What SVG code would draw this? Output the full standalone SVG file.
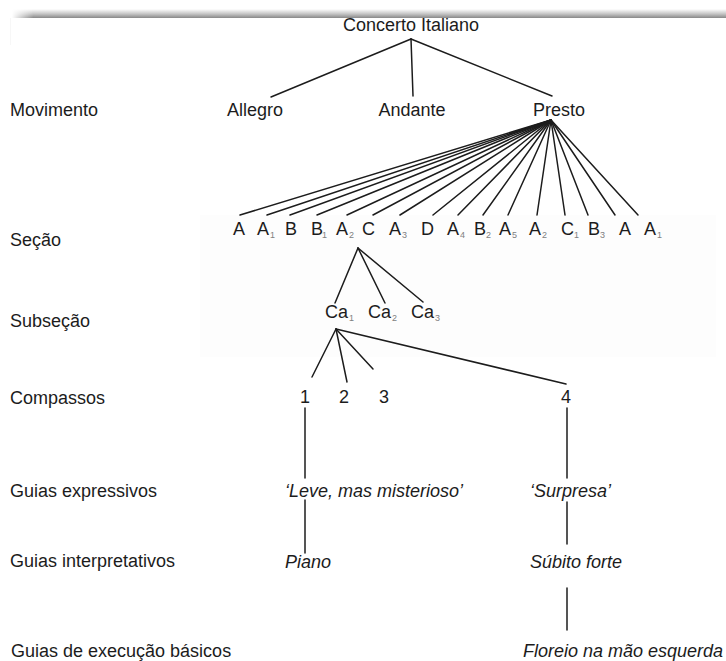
<svg xmlns="http://www.w3.org/2000/svg" width="726" height="661" viewBox="0 0 726 661">
<defs>
<linearGradient id="shadowV" x1="0" y1="0" x2="0" y2="1">
<stop offset="0" stop-color="#ffffff"/>
<stop offset="0.55" stop-color="#c4c4c4"/>
<stop offset="1" stop-color="#888888"/>
</linearGradient>
<linearGradient id="shadowH" x1="0" y1="0" x2="1" y2="0">
<stop offset="0" stop-color="#ffffff" stop-opacity="1"/>
<stop offset="0.03" stop-color="#ffffff" stop-opacity="0"/>
<stop offset="1" stop-color="#ffffff" stop-opacity="0"/>
</linearGradient>
<style>
.t{font-family:"Liberation Sans",Arial,sans-serif;font-size:18px;fill:#1c1c1c}
.i{font-style:italic}
.s{font-family:"Liberation Sans",Arial,sans-serif;font-size:9px;fill:#808080}
.m{text-anchor:middle}
.c line{stroke:#1c1c1c;stroke-width:1.5;stroke-linecap:round}
</style>
</defs>
<rect width="726" height="661" fill="#ffffff"/>
<g id="frame">
<rect x="12" y="9" width="714" height="9" fill="url(#shadowV)"/>
<rect x="12" y="9" width="714" height="9" fill="url(#shadowH)"/>
<line x1="10.5" y1="18" x2="10.5" y2="45" stroke="#f7f7f7" stroke-width="1"/>
<rect x="200" y="215" width="516" height="142" fill="#fdfdfd"/>
</g>
<g id="levels" class="t">
<text x="10" y="116">Movimento</text>
<text x="10" y="246">Seção</text>
<text x="10" y="327">Subseção</text>
<text x="10" y="404">Compassos</text>
<text x="10" y="497">Guias expressivos</text>
<text x="10" y="567">Guias interpretativos</text>
<text x="11" y="657">Guias de execução básicos</text>
</g>
<g id="connectors" class="c">
<line x1="411" y1="39" x2="271" y2="97"/>
<line x1="411" y1="39" x2="413" y2="96"/>
<line x1="411" y1="39" x2="552" y2="96"/>
<line x1="551" y1="120" x2="240" y2="215"/>
<line x1="551" y1="120" x2="267" y2="215"/>
<line x1="551" y1="120" x2="290" y2="215"/>
<line x1="551" y1="120" x2="317" y2="215"/>
<line x1="551" y1="120" x2="347" y2="215"/>
<line x1="551" y1="120" x2="373" y2="215"/>
<line x1="551" y1="120" x2="400" y2="215"/>
<line x1="551" y1="120" x2="433" y2="215"/>
<line x1="551" y1="120" x2="458" y2="215"/>
<line x1="551" y1="120" x2="483" y2="215"/>
<line x1="551" y1="120" x2="508" y2="215"/>
<line x1="551" y1="120" x2="537" y2="215"/>
<line x1="551" y1="120" x2="565" y2="215"/>
<line x1="551" y1="120" x2="588" y2="215"/>
<line x1="551" y1="120" x2="615" y2="215"/>
<line x1="551" y1="120" x2="638" y2="215"/>
<line x1="358" y1="248" x2="335" y2="303"/>
<line x1="358" y1="248" x2="385" y2="303"/>
<line x1="358" y1="248" x2="423" y2="302"/>
<line x1="336" y1="329" x2="312" y2="377"/>
<line x1="336" y1="329" x2="347" y2="382"/>
<line x1="336" y1="329" x2="373" y2="369"/>
<line x1="336" y1="329" x2="566" y2="384"/>
<line x1="305" y1="408" x2="305" y2="478"/>
<line x1="567" y1="408" x2="567" y2="478"/>
<line x1="305" y1="500" x2="305" y2="553"/>
<line x1="567" y1="502" x2="567" y2="544"/>
<line x1="567" y1="588" x2="567" y2="630"/>
</g>
<g id="concerto"><text class="t m" x="411" y="31">Concerto Italiano</text></g>
<g id="allegro"><text class="t m" x="255" y="116">Allegro</text></g>
<g id="andante"><text class="t m" x="412" y="116">Andante</text></g>
<g id="presto"><text class="t m" x="559" y="116">Presto</text></g>
<g id="secoes">
<text class="t" x="233" y="235">A</text>
<text class="t" x="257" y="235">A</text><text class="s" x="270" y="238">1</text>
<text class="t" x="285" y="235">B</text>
<text class="t" x="311" y="235">B</text><text class="s" x="322" y="238">1</text>
<text class="t" x="336" y="235">A</text><text class="s" x="349" y="238">2</text>
<text class="t" x="362" y="235">C</text>
<text class="t" x="389" y="235">A</text><text class="s" x="402" y="238">3</text>
<text class="t" x="421" y="235">D</text>
<text class="t" x="447" y="235">A</text><text class="s" x="460" y="238">4</text>
<text class="t" x="474" y="235">B</text><text class="s" x="486" y="238">2</text>
<text class="t" x="499" y="235">A</text><text class="s" x="512" y="238">5</text>
<text class="t" x="529" y="235">A</text><text class="s" x="542" y="238">2</text>
<text class="t" x="561" y="235">C</text><text class="s" x="574" y="238">1</text>
<text class="t" x="588" y="235">B</text><text class="s" x="600" y="238">3</text>
<text class="t" x="619" y="235">A</text>
<text class="t" x="644" y="235">A</text><text class="s" x="657" y="238">1</text>
</g>
<g id="subsecoes">
<text class="t" x="325" y="318">Ca</text><text class="s" x="349" y="321">1</text>
<text class="t" x="368" y="318">Ca</text><text class="s" x="392" y="321">2</text>
<text class="t" x="411" y="318">Ca</text><text class="s" x="435" y="321">3</text>
</g>
<g id="compassos" class="t m">
<text x="305" y="403">1</text>
<text x="344" y="403">2</text>
<text x="384" y="403">3</text>
<text x="566" y="403">4</text>
</g>
<g id="expressivos" class="t i">
<text x="285" y="497">‘Leve, mas misterioso’</text>
<text x="530" y="497">‘Surpresa’</text>
</g>
<g id="interpretativos" class="t i">
<text x="285" y="568">Piano</text>
<text x="530" y="568">Súbito forte</text>
</g>
<g id="execucao" class="t i">
<text x="523" y="657">Floreio na mão esquerda</text>
</g>
</svg>
